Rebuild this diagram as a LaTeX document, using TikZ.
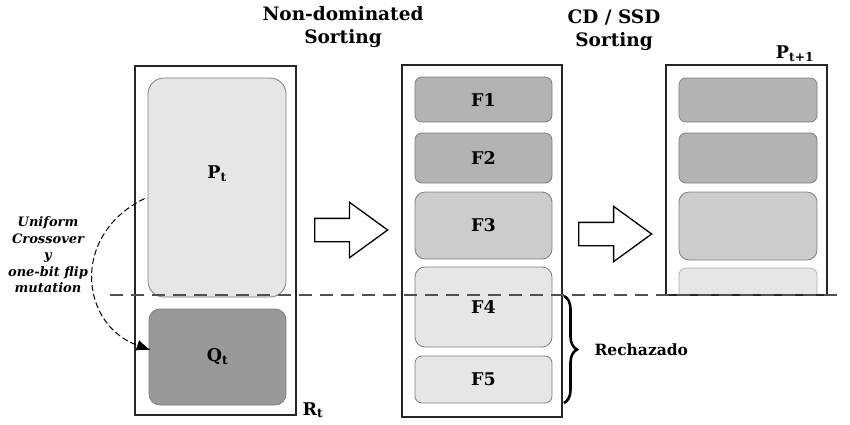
\documentclass[tikz,border=0pt]{standalone}
\usepackage{xcolor}
\usepackage{fontspec}
\setmainfont{DejaVu Serif}
\usepackage{tikz}
\usetikzlibrary{arrows.meta,shapes.arrows,decorations.pathreplacing}
\definecolor{popfill}{RGB}{230, 230, 230}
\definecolor{offfill}{RGB}{153, 153, 153}
\definecolor{frontA}{RGB}{179, 179, 179}
\definecolor{frontB}{RGB}{204, 204, 204}
\definecolor{rimgray}{RGB}{125, 125, 125}
\definecolor{cutgray}{RGB}{80, 80, 80}

\begin{document}
\begin{tikzpicture}[x=1pt, y=-1pt,
    outer/.style={draw=black!85, line width=1.2pt, minimum width=161pt, inner sep=0pt},
    front/.style={draw=rimgray, line width=0.8pt, rounded corners=7pt, minimum width=137pt, inner sep=0pt, font=\fontsize{17.5}{20}\selectfont\bfseries},
    fat/.style={single arrow, draw, line width=1.3pt, fill=white, minimum height=73pt, minimum width=54pt, single arrow head extend=16pt, single arrow tip angle=72, inner xsep=0pt, inner ysep=11pt, anchor=tail},
    head/.style={align=center, font=\fontsize{18.5}{23}\selectfont\bfseries},
    sub/.style={font=\fontsize{17.5}{20}\selectfont\bfseries},
]
    \useasboundingbox (0,0) rectangle (850,424);

    % R_t
    \node[outer, minimum height=349pt] (rt) at (215.5,240.5) {};
    \node[front, fill=popfill, rounded corners=16pt, minimum width=138pt, minimum height=219pt] (pt) at (217,187.5) {};
    \node[sub] (ptlbl) at ([yshift=14pt]pt.center) {P\textsubscript{t}};
    \node[front, fill=offfill, rounded corners=11pt, minimum height=96pt] (qt) at (217.5,357) {Q\textsubscript{t}};
    \node[sub] (rtlbl) at (313,410) {R\textsubscript{t}};

    % fronts
    \node[outer, minimum width=160pt, minimum height=352pt] (nds) at (482,241) {};
    \node[front, fill=frontA, minimum height=45pt] (f1) at (483.5,99.5) {F1};
    \node[front, fill=frontA, minimum height=50pt] (f2) at (483.5,158) {F2};
    \node[front, fill=frontB, rounded corners=10pt, minimum height=67pt] (f3) at (483.5,225.5) {F3};
    \node[front, fill=popfill, rounded corners=10pt, minimum height=80pt] (f4) at (483.5,307) {F4};
    \node[front, fill=popfill, minimum height=47pt] (f5) at (483.5,379.5) {F5};

    % P_{t+1}
    \begin{scope}
        \clip (666,65) rectangle (827,295);
        \node[front, draw=rimgray!60, fill=popfill, minimum width=138pt, minimum height=44pt] (g4) at (748,290) {};
    \end{scope}
    \node[outer, minimum height=230pt] (pnext) at (746.5,180) {};
    \node[front, fill=frontA, minimum width=138pt, minimum height=44pt] (g1) at (748,100) {};
    \node[front, fill=frontA, minimum width=138pt, minimum height=50pt] (g2) at (748,158) {};
    \node[front, fill=frontB, rounded corners=10pt, minimum width=138pt, minimum height=68pt] (g3) at (748,226) {};
    \node[sub] (pnlbl) at (795,54) {P\textsubscript{t+1}};

    % cut line
    \coordinate (cutL) at (110,295);
    \coordinate (cutR) at (842,295);
    \draw[cutgray, line width=1.4pt, dash pattern=on 13pt off 8pt] (cutL) -- (cutR);

    \node[fat] (a1) at (314,230) {};
    \node[fat, minimum width=52pt] (a2) at (578,234) {};

    \node[head] (ndsort) at (343,27) {Non-dominated\\Sorting};
    \node[head] (cdsort) at (614,30) {CD / SSD\\Sorting};

    % variation
    \node[align=center, font=\fontsize{13}{16.5}\selectfont\bfseries\itshape] (var) at (48,255) {Uniform\\Crossover\\y\\one-bit flip\\mutation};
    \coordinate (vstart) at ([xshift=-3pt,yshift=-11pt]pt.west);
    \draw[dash pattern=on 6pt off 3pt, line width=1pt, -{Latex[length=14pt,width=11pt]}] (vstart) .. controls (70,235) and (80,325) .. ([xshift=2pt,yshift=7pt]qt.west);

    % rejected
    \coordinate (brtop) at (564,296);
    \coordinate (brbot) at (564,403);
    \draw[line width=2.6pt, decorate, decoration={brace, amplitude=13pt}] (brtop) -- (brbot);
    \node[anchor=west, font=\fontsize{15.5}{18}\selectfont\bfseries] (rej) at (591,350) {Rechazado};
\end{tikzpicture}
\end{document}
